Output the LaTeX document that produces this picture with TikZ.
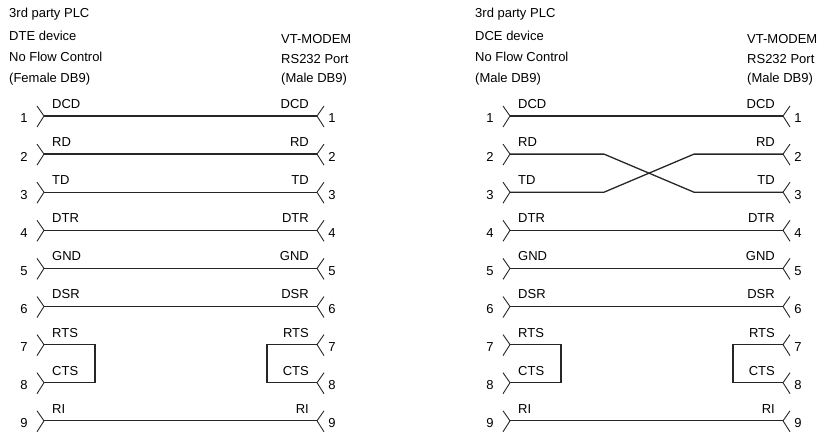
\documentclass[tikz,border=0pt]{standalone}
\usepackage{fontspec}
\setmainfont{Liberation Sans}
\begin{document}
\begin{tikzpicture}[x=1bp,y=-1bp,
  font=\fontsize{13bp}{16bp}\selectfont,
  wire/.style={line width=1.3bp, draw=black!85},
  chev/.style={line width=0.9bp, draw=black!85},
  txt/.style={inner sep=0pt, anchor=west},
  txtr/.style={inner sep=0pt, anchor=east},
  dig/.style={inner sep=0pt}]
\useasboundingbox (0,0) rectangle (819,431);
% headers
\node[txt] (h1) at (9,14) {3rd party PLC};
\node[txt] (h2) at (9,36) {DTE device};
\node[txt] (h3) at (9,57) {No Flow Control};
\node[txt] (h4) at (9,79) {(Female DB9)};
\node[txt] (h5) at (281,39) {VT-MODEM};
\node[txt] (h6) at (281,59) {RS232 Port};
\node[txt] (h7) at (281,79) {(Male DB9)};
\node[txt] (k1) at (475,14) {3rd party PLC};
\node[txt] (k2) at (475,36) {DCE device};
\node[txt] (k3) at (475,57) {No Flow Control};
\node[txt] (k4) at (475,79) {(Male DB9)};
\node[txt] (k5) at (747,39) {VT-MODEM};
\node[txt] (k6) at (747,59) {RS232 Port};
\node[txt] (k7) at (747,79) {(Male DB9)};
% pins
\foreach \p/\ox in {A/0,B/466} {
  \foreach \n/\lab in {1/DCD,2/RD,3/TD,4/DTR,5/GND,6/DSR,7/RTS,8/CTS,9/RI} {
    \pgfmathsetmacro\yy{116+38.1*(\n-1)}
    \coordinate (\p L\n) at (44+\ox,\yy);
    \coordinate (\p R\n) at (317+\ox,\yy);
    \draw[chev] (37+\ox,\yy-10) -- (\p L\n) -- (37+\ox,\yy+11);
    \draw[chev] (324+\ox,\yy-10) -- (\p R\n) -- (324+\ox,\yy+11);
    \node[dig] (\p dl\n) at (24+\ox,\yy+2.5) {\n};
    \node[dig] (\p dr\n) at (332+\ox,\yy+2.5) {\n};
    \node[txt] (\p ll\n) at (52+\ox,\yy-12) {\lab};
    \node[txtr] (\p lr\n) at (309+\ox,\yy-12) {\lab};
  }
}
% box corner x positions
\coordinate (Abl) at (95,0);
\coordinate (Abr) at (267,0);
\coordinate (Bbl) at (561,0);
\coordinate (Bbr) at (733,0);
\coordinate (Bc2) at (604,0);
\coordinate (Bd2) at (694,0);
% left diagram wires
\foreach \n in {1,2,3,4,5,6,9} { \draw[wire] (AL\n) -- (AR\n); }
\draw[wire] (AL7) -- (AL7 -| Abl) -- (AL8 -| Abl) -- (AL8);
\draw[wire] (AR7) -- (AR7 -| Abr) -- (AR8 -| Abr) -- (AR8);
% right diagram wires
\foreach \n in {1,4,5,6,9} { \draw[wire] (BL\n) -- (BR\n); }
\draw[wire] (BL2) -- (BL2 -| Bc2) -- (BL3 -| Bd2) -- (BR3);
\draw[wire] (BL3) -- (BL3 -| Bc2) -- (BL2 -| Bd2) -- (BR2);
\draw[wire] (BL7) -- (BL7 -| Bbl) -- (BL8 -| Bbl) -- (BL8);
\draw[wire] (BR7) -- (BR7 -| Bbr) -- (BR8 -| Bbr) -- (BR8);
\end{tikzpicture}
\end{document}
